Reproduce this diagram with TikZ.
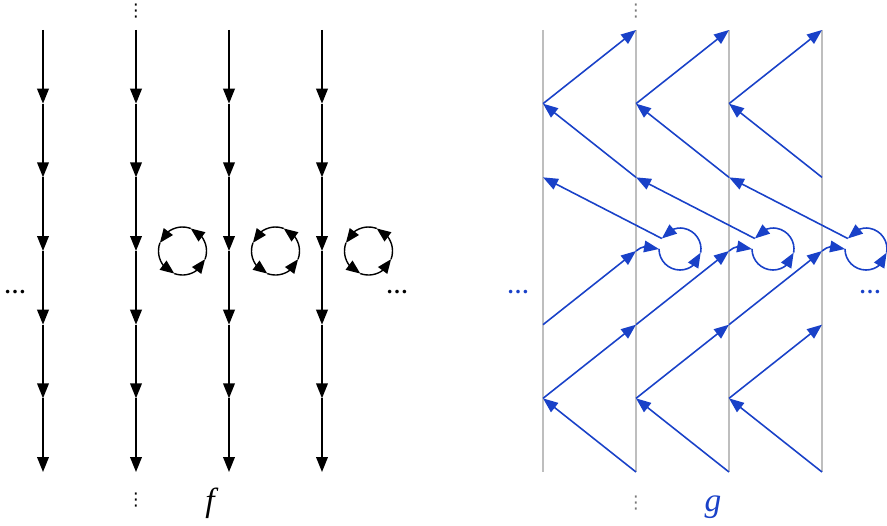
\documentclass[tikz,border=0pt]{standalone}
\usepackage{fontspec}
\setmainfont{Liberation Serif}
\newfontfamily\symfont{DejaVu Sans}
\usetikzlibrary{arrows.meta,bending,calc}
\definecolor{mapblue}{RGB}{25,65,200}
\definecolor{axisgray}{RGB}{190,190,190}
\definecolor{dotgray}{RGB}{120,120,120}
\tikzset{
    flowarrow/.style={-{Triangle[length=8.5pt, width=6.6pt]}, line width=0.95pt, black},
    cyclearrow/.style={-{Triangle[length=8pt, width=6.4pt]}, line width=0.8pt, black},
    axisline/.style={line width=0.9pt, axisgray},
    maparrow/.style={-{Triangle[length=8.5pt, width=6.6pt]}, line width=0.9pt, mapblue},
    dotslabel/.style={font=\fontsize{12.5}{13}\selectfont\bfseries, inner sep=0pt},
    vdotslabel/.style={font=\symfont\fontsize{10}{11}\selectfont, inner sep=0pt},
    maplabel/.style={font=\fontsize{19}{21}\selectfont\itshape, anchor=base, inner sep=0pt}
}

\begin{document}
\begin{tikzpicture}[x=0.02cm, y=0.02cm]
    \useasboundingbox (0,0) rectangle (887,525);

    % points on the lines: column i, level k
    \foreach \i in {0,...,3}
        \foreach \k in {0,...,6} {
            \coordinate (L-\i-\k) at ({43+93*\i}, {495-73.67*\k});
            \coordinate (R-\i-\k) at ({543+93*\i}, {495-73.67*\k});
        }

    % f
    \foreach \i in {0,...,3}
        \foreach \k/\m in {0/1,1/2,2/3,3/4,4/5,5/6}
            \draw[flowarrow] (L-\i-\k) -- (L-\i-\m);

    \foreach \i in {1,2,3} {
        \coordinate (Lc\i) at ({43+93*\i+46.5}, {495-73.67*3});
        \foreach \a in {250,340,70,160}
            \draw[cyclearrow] ($(Lc\i)+(\a:24)$) arc[start angle=\a, delta angle=90, radius=24];
    }

    \node[dotslabel] (lleft) at (15,233) {\dots};
    \node[dotslabel] (lright) at (397,233) {\dots};
    \node[vdotslabel] (ltop) at (136,514) {⋮};
    \node[vdotslabel] (lbot) at (136,25) {⋮};
    \node[maplabel] (f) at (210,14) {f};

    % g
    \foreach \i in {0,...,3}
        \draw[axisline] (R-\i-0) -- (R-\i-6);

    \foreach \i/\j in {0/1,1/2,2/3} {
        \draw[maparrow] (R-\j-2) -- (R-\i-1);
        \draw[maparrow] (R-\i-1) -- (R-\j-0);
        \draw[maparrow] (R-\j-6) -- (R-\i-5);
        \draw[maparrow] (R-\i-5) -- (R-\j-4);
        \draw[maparrow] (R-\i-4) -- (R-\j-3);
    }

    \foreach \i/\j in {0/1,1/2,2/3} {
        \coordinate (Rc\j) at ({543+93*\j+44}, {495-73.67*3+2});
        \coordinate (Rin\j) at ($(Rc\j)+(180:21)$);
        \coordinate (Rmid\j) at ($(Rc\j)+(350:21)$);
        \coordinate (Rout\j) at ($(Rc\j)+(150:21)$);
        \draw[maparrow] (R-\j-3) to[bend left=35] (Rin\j);
        \draw[maparrow] (Rin\j) arc[start angle=180, end angle=350, radius=21];
        \draw[maparrow] (Rmid\j) arc[start angle=350, end angle=510, radius=21];
        \draw[maparrow] (Rout\j) -- (R-\i-2);
    }

    \node[dotslabel, text=mapblue] (rleft) at (518,233) {\dots};
    \node[dotslabel, text=mapblue] (rright) at (870,233) {\dots};
    \node[vdotslabel, text=dotgray] (rtop) at (636,514) {⋮};
    \node[vdotslabel, text=dotgray] (rbot) at (636,22) {⋮};
    \node[maplabel, text=mapblue] (g) at (713,14) {g};
\end{tikzpicture}
\end{document}
